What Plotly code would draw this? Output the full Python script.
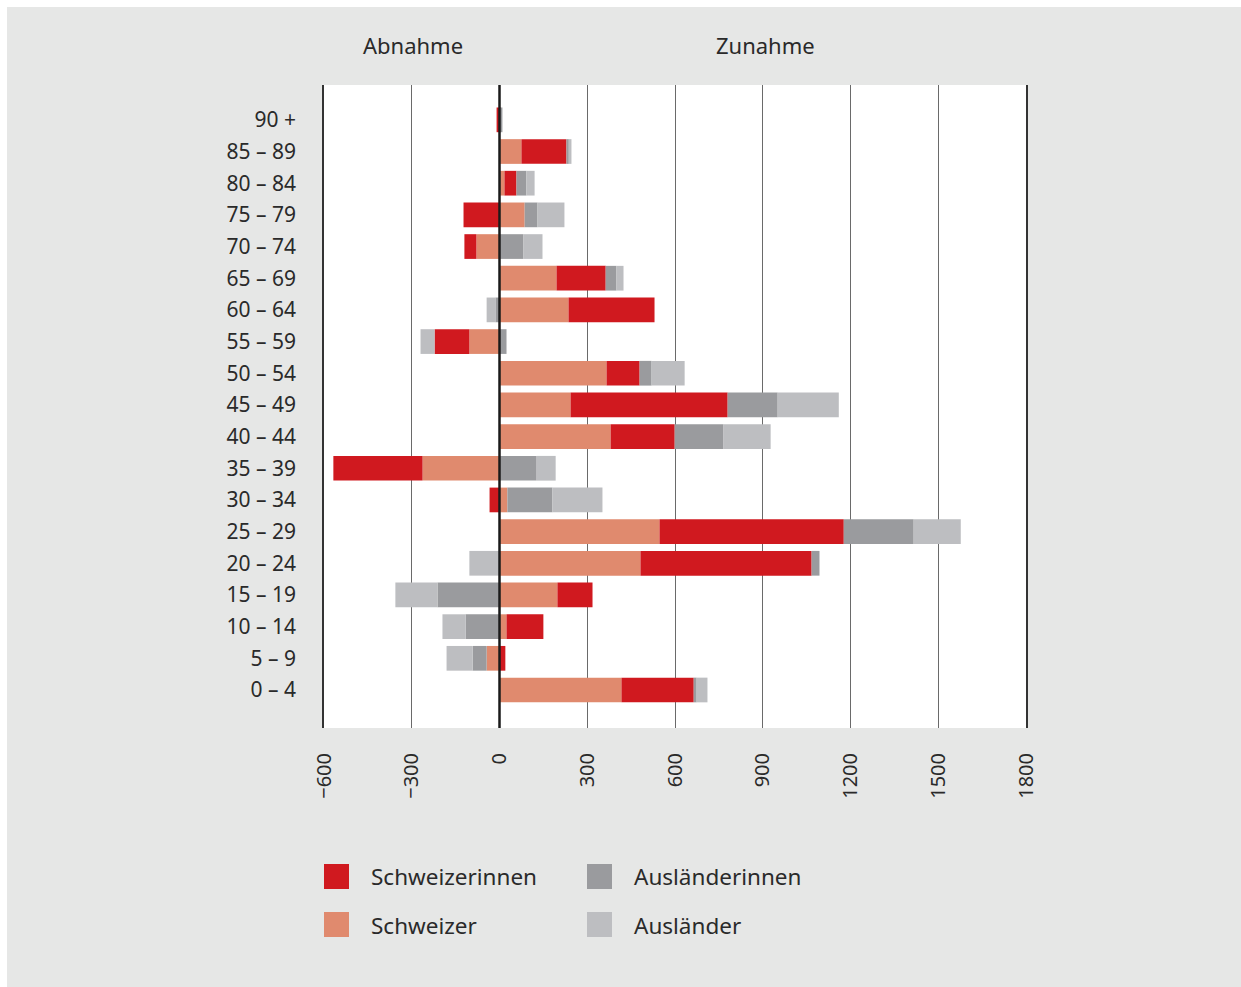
import plotly.graph_objects as go

# ---- data (bottom to top) ----
age_groups = ["0 – 4", "5 – 9", "10 – 14", "15 – 19", "20 – 24", "25 – 29", "30 – 34",
              "35 – 39", "40 – 44", "45 – 49", "50 – 54", "55 – 59", "60 – 64",
              "65 – 69", "70 – 74", "75 – 79", "80 – 84", "85 – 89", "90 +"]

schweizer      = [417, -44, 24, 198, 482, 547, 27, -263, 380, 243, 366, -103, 236, 195, -79, 86, 17, 75, 5]
schweizerinnen = [247, 20, 126, 120, 585, 630, -34, -305, 219, 537, 113, -119, 294, 168, -41, -123, 41, 154, -10]
auslaenderinnen = [10, -48, -116, -212, 27, 239, 154, 127, 167, 171, 41, 24, -14, 37, 82, 44, 34, 8, 5]
auslaender     = [37, -89, -79, -144, -103, 161, 171, 65, 161, 209, 113, -48, -30, 24, 65, 92, 28, 9, 0]

x_ticks = [-600, -300, 0, 300, 600, 900, 1200, 1500, 1800]
x_ticktext = ["−600", "−300", "0", "300", "600", "900", "1200", "1500", "1800"]

series_names = ["Schweizer", "Schweizerinnen", "Ausländerinnen", "Ausländer"]
series_values = [schweizer, schweizerinnen, auslaenderinnen, auslaender]
series_colors = ["#e08a6e", "#d0191f", "#9a9b9e", "#bdbec1"]

title_left = "Abnahme"
title_right = "Zunahme"

FONT = "Noto Sans"
TXT = "#2a2a2a"

ypos = list(range(len(age_groups)))

fig = go.Figure()
for name, vals, col in zip(series_names, series_values, series_colors):
    fig.add_trace(go.Bar(
        y=ypos, x=vals, name=name, orientation="h",
        marker=dict(color=col, line=dict(width=0)),
        width=0.78, showlegend=False,
    ))

W, H = 1241, 987
L, R, T, B = 324, 215, 85, 259
pw, ph = W - L - R, H - T - B

def px(xp):
    return (xp - L) / pw

def py(yp):
    return (H - B - yp) / ph

shapes = []
# white page border strips (top / left)
shapes.append(dict(type="rect", xref="paper", yref="paper", x0=px(-5), x1=px(W + 5), y0=py(7), y1=py(-5),
                   fillcolor="white", line=dict(width=0), layer="below"))
shapes.append(dict(type="rect", xref="paper", yref="paper", x0=px(-5), x1=px(7), y0=py(H + 5), y1=py(-5),
                   fillcolor="white", line=dict(width=0), layer="below"))
# zero line above bars
shapes.append(dict(type="line", xref="x", yref="paper", x0=0, x1=0, y0=0, y1=1,
                   line=dict(color="#1a1a1a", width=2.5), layer="above"))

# manual legend (two columns)
legend_layout = [
    ("Schweizerinnen", "#d0191f", 324, 864),
    ("Schweizer", "#e08a6e", 324, 912),
    ("Ausländerinnen", "#9a9b9e", 587, 864),
    ("Ausländer", "#bdbec1", 587, 912),
]
annotations = []
for name, col, lx, ly in legend_layout:
    shapes.append(dict(type="rect", xref="paper", yref="paper",
                       x0=px(lx), x1=px(lx + 25), y0=py(ly + 25), y1=py(ly),
                       fillcolor=col, line=dict(width=0)))
    annotations.append(dict(text=name, xref="paper", yref="paper", x=px(lx + 45), y=py(ly + 13),
                            xanchor="left", yanchor="middle", showarrow=False,
                            font=dict(family=FONT, size=22.5, color=TXT)))

annotations.append(dict(text=title_left, xref="x", yref="paper", x=-295, y=py(45),
                        xanchor="center", yanchor="middle", showarrow=False,
                        font=dict(family=FONT, size=22, color=TXT)))
annotations.append(dict(text=title_right, xref="x", yref="paper", x=910, y=py(45),
                        xanchor="center", yanchor="middle", showarrow=False,
                        font=dict(family=FONT, size=22, color=TXT)))

fig.update_layout(
    width=W, height=H,
    margin=dict(l=L, r=R, t=T, b=B, pad=0),
    paper_bgcolor="#e6e7e6",
    plot_bgcolor="white",
    barmode="relative",
    showlegend=False,
    shapes=shapes,
    annotations=annotations,
    font=dict(family=FONT, color=TXT),
    xaxis=dict(
        range=[-600, 1800], tickvals=x_ticks, ticktext=x_ticktext, tickangle=-90,
        showgrid=True, gridcolor="#6a6a6a", gridwidth=1.4,
        zeroline=False, showline=False, ticks="",
        tickfont=dict(family=FONT, size=20, color=TXT),
        ticklabelstandoff=20, fixedrange=True,
    ),
    yaxis=dict(
        range=[-1.2, 19.1], tickvals=ypos, ticktext=age_groups,
        showgrid=False, zeroline=False, ticks="",
        showline=True, mirror=True, linecolor="#333333", linewidth=1.5,
        tickfont=dict(family=FONT, size=21, color=TXT),
        ticklabelstandoff=22, fixedrange=True,
    ),
)

post_js = ("document.body.style.margin='0';"
           "document.body.style.overflow='hidden';"
           "document.documentElement.style.overflow='hidden';")

fig.write_html("out.html", post_script=post_js, config={"displayModeBar": False})
